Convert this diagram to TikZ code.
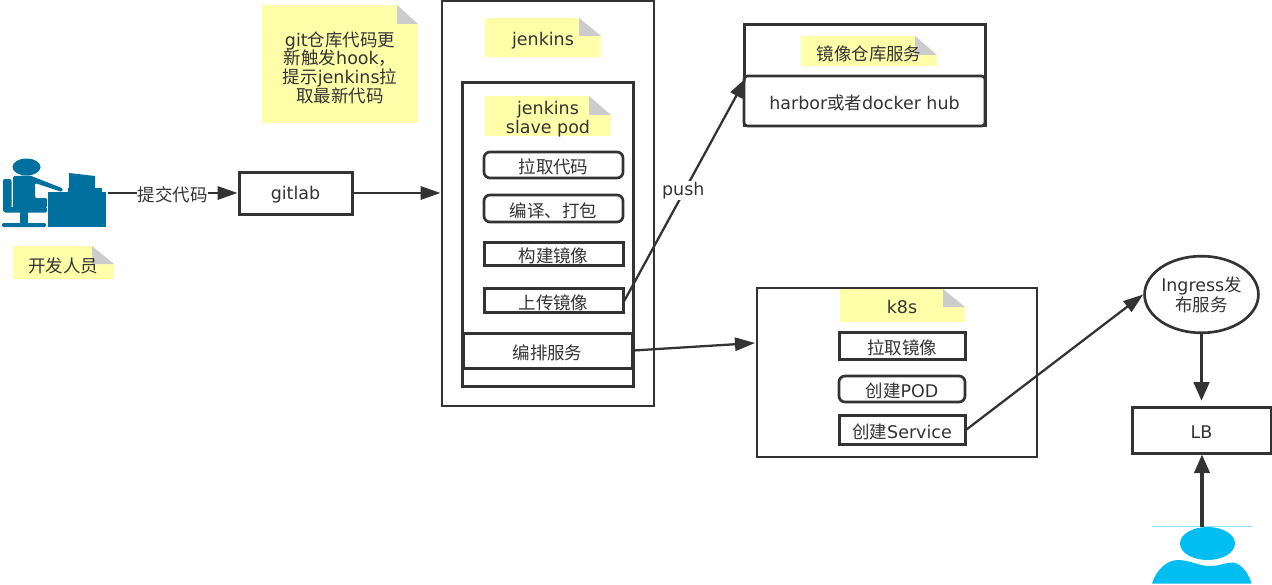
\documentclass[tikz,border=0pt]{standalone}
\usepackage{fontspec}
\setmainfont{DejaVu Sans}
\newfontfamily\cjk{Noto Sans CJK SC}
\usetikzlibrary{arrows.meta,shapes.geometric}
\definecolor{ink}{HTML}{333333}
\definecolor{noteyellow}{HTML}{FFFFAA}
\definecolor{notefold}{HTML}{CCCCCC}
\definecolor{devblue}{HTML}{00709F}
\definecolor{userblue}{HTML}{00BEF2}
\tikzset{
  x=0.75pt,y=-0.75pt,
  every node/.style={text=ink,font=\fontsize{13.1}{14}\selectfont,inner sep=0pt,align=center},
  plainbox/.style={draw=ink,line width=2.2pt,fill=white},
  thinbox/.style={draw=ink,line width=2.25pt,fill=white},
  thinround/.style={draw=ink,fill=white,line width=2pt,rounded corners=4.5pt},
  softround/.style={draw=ink,fill=white,line width=2pt,rounded corners=2.5pt},
  arrowline/.style={draw=ink,line width=1.7pt,-{Triangle[length=15pt,width=10pt]}},
  thickarrow/.style={draw=ink,line width=2.5pt,-{Triangle[length=14pt,width=11.5pt]}},
}
% \notebox{name}{x1}{y1}{x2}{y2}{foldx}{foldy}{textx}{texty}{text}
\newcommand{\notebox}[9]{%
  \fill[noteyellow] (#2,#3) rectangle (#4,#5);
  \fill[white] (#6,#3) -- (#4,#3) -- (#4,#7) -- cycle;
  \fill[notefold] (#6,#3) -- (#4,#7) -- (#6,#7) -- cycle;
  \node (#1) at (#8,#9)}
\newcommand{\rectnode}[7]{\node[#2,minimum width=#5*0.75pt,minimum height=#6*0.75pt] (#1) at (#3,#4) {\raisebox{-1.6pt}[\height][\depth]{#7}};}
\begin{document}
\begin{tikzpicture}
\useasboundingbox (0,0) rectangle (1272,585);
% containers
\rectnode{jenkinsbox}{plainbox}{548}{203.5}{212}{405}{}
\rectnode{podbox}{thinbox}{547.5}{234.5}{171}{303}{}
\rectnode{harborbox}{thinbox}{864.5}{75.5}{241}{101}{}
\rectnode{kbox}{plainbox}{897}{372.5}{280}{169}{}
% notes
\notebox{notehook}{262}{5}{418}{123}{397}{24}{340}{67.5}{\fontsize{13.1}{13.6}\selectfont git{\cjk 仓库代码更}\\{\cjk 新触发}hook{\cjk ，}\\{\cjk 提示}jenkins{\cjk 拉}\\{\cjk 取最新代码}};
\notebox{notejenkins}{485}{18}{601}{57}{579}{36}{543}{41}{jenkins};
\notebox{noteslave}{485}{96}{611}{136}{589}{115}{548}{119}{\fontsize{13.1}{13.6}\selectfont jenkins\\slave pod};
\notebox{notedev}{13}{246}{114}{279}{92}{264}{63}{265.5}{\cjk 开发人员};
\notebox{noteharbor}{801}{36}{937}{66}{915}{55}{869}{53.5}{\cjk 镜像仓库服务};
\notebox{notek}{840}{289}{965}{322}{943}{307}{902}{307}{k8s};
% boxes
\rectnode{gitlab}{thinbox}{295.5}{193}{113}{42}{gitlab}
\rectnode{pull}{thinround}{553.5}{165}{139}{26}{\cjk 拉取代码}
\rectnode{compile}{thinround}{553.5}{208.5}{139}{27}{\cjk 编译、打包}
\rectnode{build}{thinbox}{553.5}{253.5}{139}{23}{\cjk 构建镜像}
\rectnode{upload}{thinbox}{553.5}{300.5}{139}{24}{\cjk 上传镜像}
\rectnode{deploy}{thinbox}{547.5}{350.5}{169}{35}{\cjk 编排服务}
\rectnode{harbor}{softround}{864.5}{101}{241}{50}{harbor{\cjk 或者}docker hub}
\rectnode{pullimg}{thinbox}{902}{345.5}{126}{27}{\cjk 拉取镜像}
\rectnode{pod}{thinround}{902}{389}{126}{26}{{\cjk 创建}POD}
\rectnode{service}{thinbox}{902}{429.5}{126}{29}{{\cjk 创建}Service}
\node[ellipse,draw=ink,line width=2pt,fill=white,minimum width=83pt,minimum height=57.5pt] (ingress) at (1201.5,294.5) {\raisebox{-1.8pt}[\height][\depth]{\fontsize{13.1}{13.6}\selectfont\begin{tabular}{@{}c@{}}Ingress{\cjk 发}\\{\cjk 布服务}\end{tabular}}};
\rectnode{lb}{thinbox}{1201.5}{430}{139}{46}{LB}
% developer icon
\begin{scope}[fill=devblue]
  \fill (26.5,167) ellipse[x radius=14,y radius=8.5];
  \fill[rounded corners=1.5pt] (3,179) rectangle (11.5,212);
  \fill[rounded corners=1pt] (4,207) -- (4,212.5) -- (47,212.5) -- (47,207) -- cycle;
  \fill[rounded corners=1pt] (13,176) -- (30,175.5) -- (63,188.5) -- (62,192) -- (35,183) -- (35,198) -- (47,198) -- (47,208) -- (13,208) -- cycle;
  \fill (20,212) rectangle (28,223);
  \fill[rounded corners=1pt] (2,223) rectangle (46,227);
  \fill (48,192) rectangle (106,227);
  \fill (69,173) -- (95,176) -- (95,188) -- (69,188) -- cycle;
  \fill (68,188) rectangle (102,192);
\end{scope}
\coordinate (devicon) at (108,193);
% user icon
\draw[userblue!45,line width=0.6pt] (1152,526.5) -- (1252,526.5);
\fill[userblue] (1207.5,543.5) ellipse[x radius=27.5,y radius=16.5];
\fill[userblue] (1152,583.5) .. controls (1156,570) and (1167,560) .. (1178,560) .. controls (1192,560.5) and (1198,566) .. (1210,566) .. controls (1220,566) and (1225,562.5) .. (1233,562.5) .. controls (1242,564) and (1249,574) .. (1251.5,583.5) -- cycle;
\coordinate (user) at (1202,527);
\coordinate (harborport) at (746,78);
\coordinate (kport) at (755,343);
% connectors
\draw[arrowline] (devicon) -- (gitlab.west) node[midway,fill=white,yshift=-1.5pt,inner xsep=0.5pt,inner ysep=1pt] (commit) {\cjk 提交代码};
\draw[arrowline] (gitlab.east) -- (jenkinsbox.west |- gitlab.east);
\draw[arrowline] (upload.east) -- (harborport) node[pos=0.5,xshift=-1.5pt,yshift=-0.8pt,fill=white,inner sep=1pt] (pushlabel) {push};
\draw[arrowline] (deploy.east) -- (kport);
\draw[arrowline] (service.east) -- (ingress.west);
\draw[thickarrow,shorten >=3.5pt] (ingress.south) -- (lb.north);
\draw[thickarrow] (user) -- (lb.south -| user);
\end{tikzpicture}
\end{document}
